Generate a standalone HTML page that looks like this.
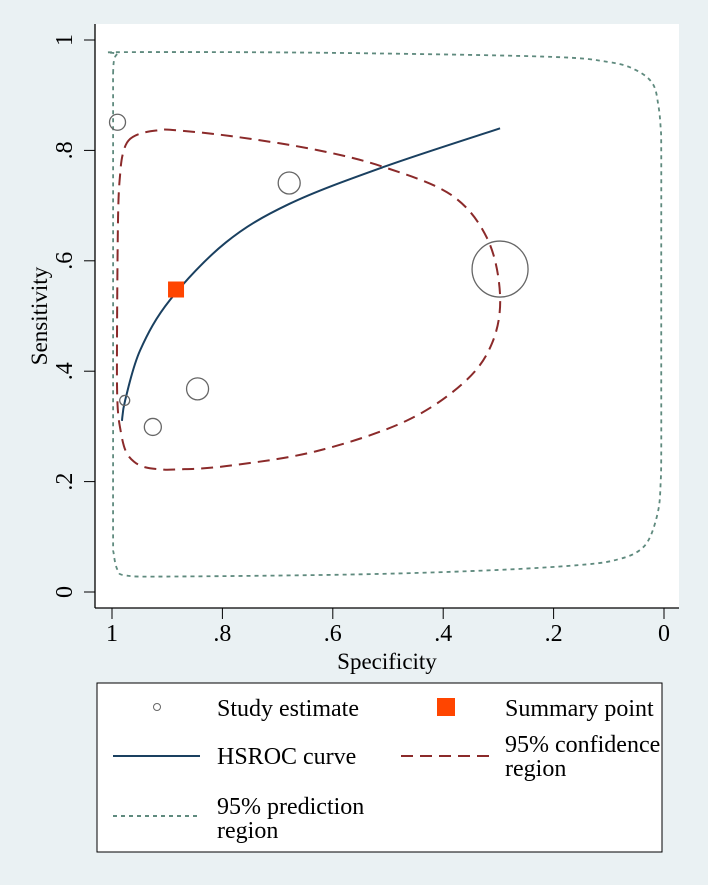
<!DOCTYPE html>
<html><head><meta charset="utf-8"><style>
body{margin:0;background:#eaf1f3;}
svg{display:block;font-family:"Liberation Serif",serif;}
</style></head><body>
<svg id="chart" width="708" height="885" xmlns="http://www.w3.org/2000/svg">
<rect x="0" y="0" width="708" height="885" fill="#eaf1f3"/>
<rect x="95" y="24" width="584" height="584" fill="#fff"/>
<g id="axes"></g>
<g id="marks"></g>
<g>
<rect x="97" y="683" width="565" height="169" fill="#fff" stroke="#000" stroke-width="1"/>
<circle cx="157" cy="707" r="3.5" fill="none" stroke="#666"/>
<text x="217" y="716" font-size="24">Study estimate</text>
<rect x="437" y="698" width="18" height="18" fill="#ff4500"/>
<text x="505" y="716" font-size="24">Summary point</text>
<line x1="113" y1="756" x2="200" y2="756" stroke="#1a4060" stroke-width="2"/>
<text x="217" y="764" font-size="24">HSROC curve</text>
<line x1="401" y1="756" x2="490" y2="756" stroke="#8b2a2a" stroke-width="2" stroke-dasharray="12,7"/>
<text font-size="24"><tspan x="505" y="752">95% confidence</tspan><tspan x="505" y="776">region</tspan></text>
<line x1="113" y1="816" x2="200" y2="816" stroke="#5f8a7e" stroke-width="2" stroke-dasharray="4,4"/>
<text font-size="24"><tspan x="217" y="814">95% prediction</tspan><tspan x="217" y="838">region</tspan></text>
</g>
</svg>
<script>
const studySpec=[0.990,0.679,0.297,0.845,0.926,0.977];
const studySens=[0.851,0.741,0.585,0.368,0.299,0.347];
const studyRadius=[8,11,28,11,8.5,5];
const summarySpec=[0.884];
const summarySens=[0.548];
const hsrocSpec=[0.982,0.976,0.949,0.895,0.794,0.679,0.508,0.297];
const hsrocSens=[0.31,0.348,0.438,0.529,0.633,0.703,0.770,0.84];
const confSpec=[0.970,0.950,0.920,0.890,0.778,0.630,0.508,0.385,0.320,0.297,0.311,0.361,0.467,0.630,0.794,0.884,0.910,0.940,0.960,0.975,0.984,0.990,0.991,0.989,0.985,0.980];
const confSens=[0.818,0.830,0.836,0.837,0.825,0.801,0.770,0.719,0.640,0.538,0.452,0.381,0.310,0.255,0.228,0.222,0.222,0.226,0.236,0.255,0.290,0.340,0.444,0.680,0.760,0.795];
const predSpec=[0.998,0.996,0.990,0.980,0.630,0.220,0.100,0.050,0.020,0.010,0.006,0.005,0.005,0.005,0.005,0.006,0.010,0.025,0.045,0.080,0.140,0.300,0.550,0.900,0.975,0.990,0.997,0.998,0.998,0.998,0.998,0.998];
const predSens=[0.940,0.965,0.975,0.978,0.977,0.970,0.960,0.945,0.920,0.880,0.840,0.800,0.600,0.400,0.250,0.200,0.150,0.100,0.075,0.060,0.050,0.040,0.032,0.028,0.030,0.040,0.070,0.100,0.300,0.500,0.700,0.900];
const xTicks=[1,0.8,0.6,0.4,0.2,0];
const xTickLabels=["1",".8",".6",".4",".2","0"];
const yTicks=[0,0.2,0.4,0.6,0.8,1];
const yTickLabels=["0",".2",".4",".6",".8","1"];

const NS="http://www.w3.org/2000/svg";
const X=v=>664-552*v, Y=v=>592-552*v;
function mk(t,a,p){const e=document.createElementNS(NS,t);for(const k in a)e.setAttribute(k,a[k]);p.appendChild(e);return e;}
const axes=document.getElementById('axes'), marks=document.getElementById('marks');
let e=mk('line',{x1:95,y1:608,x2:679,y2:608,stroke:'#000','stroke-width':1.3},axes);


e=mk('line',{x1:95,y1:24,x2:95,y2:608,stroke:'#000','stroke-width':1.3},axes);


xTicks.forEach((v,i)=>{
  mk('line',{x1:X(v),y1:608,x2:X(v),y2:619,stroke:'#000'},axes);
  const t=mk('text',{x:X(v),y:641,'font-size':24,'text-anchor':'middle'},axes);t.textContent=xTickLabels[i];
  
  
});
yTicks.forEach((v,i)=>{
  mk('line',{x1:84,y1:Y(v),x2:95,y2:Y(v),stroke:'#000'},axes);
  const t=mk('text',{x:72,y:Y(v),'font-size':24,'text-anchor':'middle',transform:`rotate(-90 72 ${Y(v)})`},axes);t.textContent=yTickLabels[i];
  
  
});
e=mk('text',{x:387,y:669,'font-size':23,'text-anchor':'middle'},axes);e.textContent='Specificity';


e=mk('text',{x:47,y:316,'font-size':23,'text-anchor':'middle',transform:'rotate(-90 47 316)'},axes);e.textContent='Sensitivity';



function smooth(xs,ys,closed){
  const P=xs.map((s,i)=>[X(s),Y(ys[i])]);const n=P.length;
  let d=`M${P[0][0]},${P[0][1]}`;
  const g=i=>closed?P[(i+n)%n]:P[Math.max(0,Math.min(n-1,i))];
  const m=closed?n:n-1;
  for(let i=0;i<m;i++){const p0=g(i-1),p1=g(i),p2=g(i+1),p3=g(i+2);
    d+=` C${p1[0]+(p2[0]-p0[0])/6},${p1[1]+(p2[1]-p0[1])/6} ${p2[0]-(p3[0]-p1[0])/6},${p2[1]-(p3[1]-p1[1])/6} ${p2[0]},${p2[1]}`;}
  return d+(closed?'Z':'');
}
e=mk('path',{d:smooth(predSpec,predSens,true),fill:'none',stroke:'#5f8a7e','stroke-width':1.8,'stroke-dasharray':'4,4'},marks);


e=mk('path',{d:smooth(confSpec,confSens,true),fill:'none',stroke:'#8b2a2a','stroke-width':2,'stroke-dasharray':'12,7'},marks);


e=mk('path',{d:smooth(hsrocSpec,hsrocSens,false),fill:'none',stroke:'#1a4060','stroke-width':2},marks);


studySpec.forEach((s,i)=>{
  const c=mk('circle',{cx:X(s),cy:Y(studySens[i]),r:studyRadius[i],fill:'none',stroke:'#666','stroke-width':1.3},marks);
  
  
});
summarySpec.forEach((s,i)=>{
  const r=mk('rect',{x:X(s)-8,y:Y(summarySens[i])-8,width:16,height:16,fill:'#ff4500'},marks);
  
  
});
</script>
</body></html>
